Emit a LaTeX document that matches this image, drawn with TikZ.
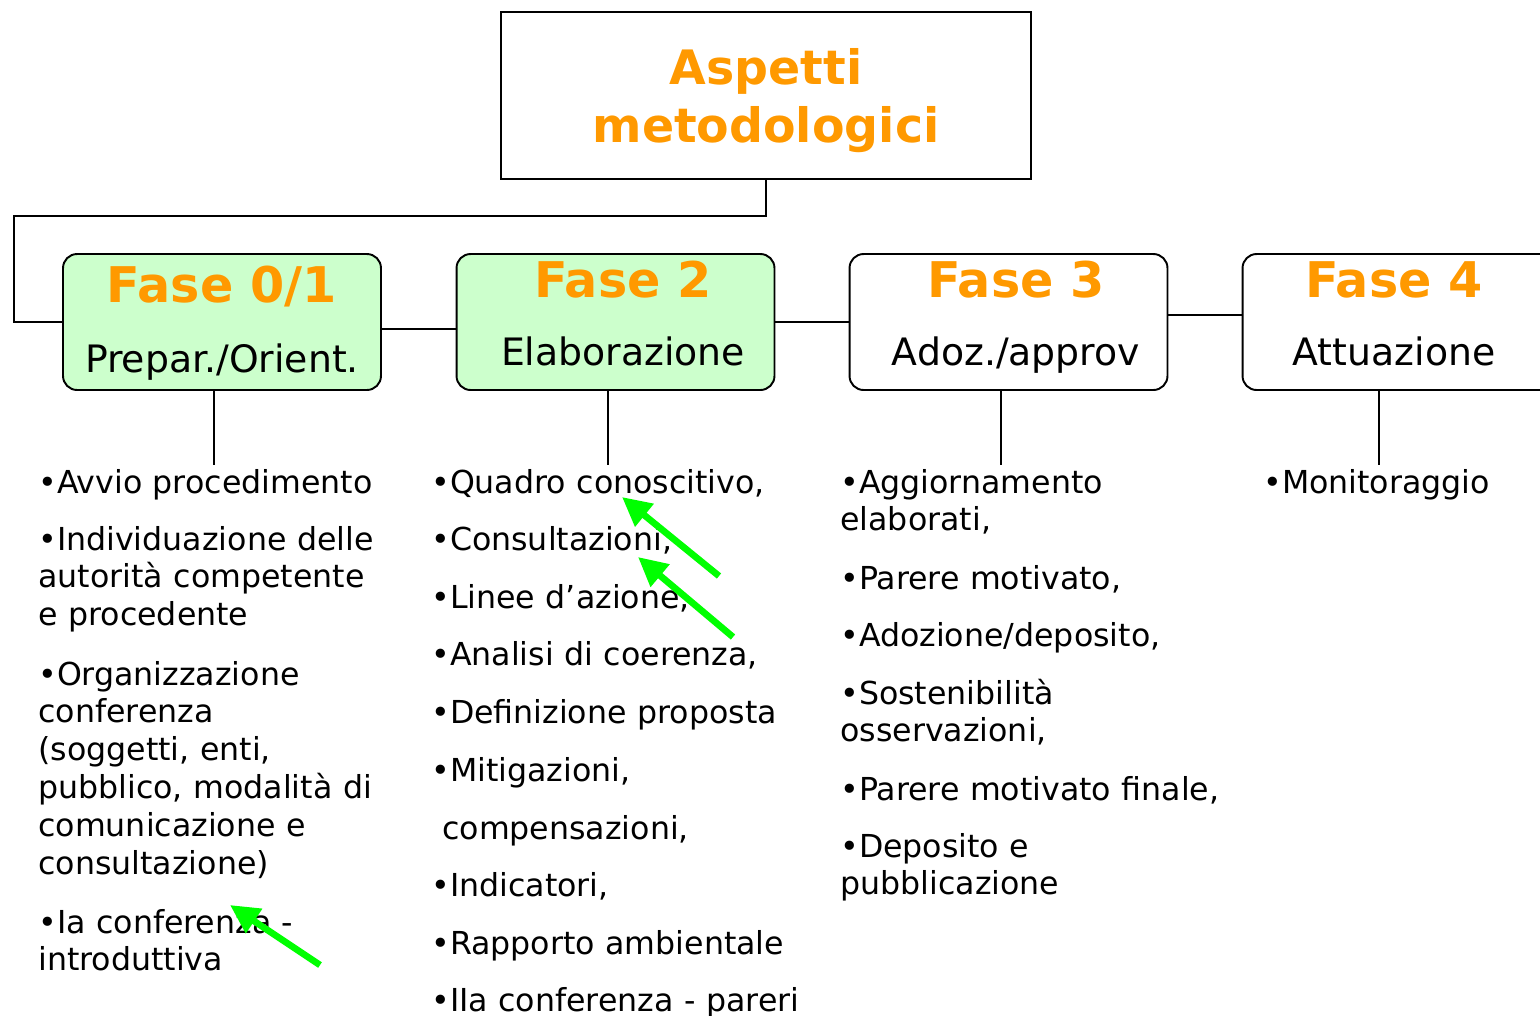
\documentclass[tikz,border=0pt]{standalone}
\usepackage{fontspec}
\setmainfont{DejaVu Sans}
\usepackage{tikz}
\usetikzlibrary{arrows.meta, positioning, calc}

\definecolor{arancio}{HTML}{FF9900}
\definecolor{verdino}{HTML}{CCFFCC}
\definecolor{verde}{HTML}{00FF00}

\begin{document}
\begin{tikzpicture}[
		x=0.02cm, y=-0.02cm,
		titlebox/.style={draw, line width=1.1pt, minimum width=10.6cm, minimum height=3.34cm},
		titletext/.style={align=center, font=\fontsize{27}{33}\selectfont\bfseries, text=arancio, inner sep=0},
		fasebox/.style={draw, rounded corners=8pt, line width=1.1pt, minimum width=6.36cm, minimum height=2.72cm},
		fasetitle/.style={font=\fontsize{28}{30}\selectfont\bfseries, text=arancio, anchor=base, inner sep=0},
		fasesub/.style={font=\fontsize{21.5}{24}\selectfont, anchor=base, inner sep=0},
		voce/.style={font=\fontsize{18}{21.6}\selectfont, text width=9cm, align=left, anchor=base west, inner sep=0},
		link/.style={line width=1pt},
		freccia/.style={-{Triangle[length=5.8mm, width=5.6mm]}, line width=3.8pt, verde}
		]
		
		\useasboundingbox (0,0) rectangle (1540,1015);
		\clip (0,0) rectangle (1540,1015);
		
		% Title
		\node[titlebox] (title) at (766,95.5) {};
		\node[titletext] (titlet) at (766,101) {Aspetti\\metodologici};
		
		% Phases
		\node[fasebox, fill=verdino] (b01) at (222,322) {};
		\node[fasebox, fill=verdino] (b2) at (615.5,322) {};
		\node[fasebox] (b3) at (1008.5,322) {};
		\node[fasebox] (b4) at (1401.5,322) {};
		
		\node[fasetitle] (b01t) at (222,302) {Fase 0/1};
		\node[fasesub] (b01s) at (222,372) {Prepar./Orient.};
		\node[fasetitle] (b2t) at (623,297) {Fase 2};
		\node[fasesub] (b2s) at (623,365) {Elaborazione};
		\node[fasetitle] (b3t) at (1016,297) {Fase 3};
		\node[fasesub] (b3s) at (1016,365) {Adoz./approv};
		\node[fasetitle] (b4t) at (1394,297) {Fase 4};
		\node[fasesub] (b4s) at (1394,365) {Attuazione};
		
		% Links
		\draw[link] (title.south) -- ++(0,36) -| ($(b01.west)+(-48,0)$) -- (b01.west);
		\draw[link] ($(b01.east)+(0,7)$) -- ($(b2.west)+(0,7)$);
		\draw[link] (b2.east) -- (b3.west);
		\draw[link] ($(b3.east)+(0,-7)$) -- ($(b4.west)+(0,-7)$);
		
		% Lists
		\coordinate (l01) at (214,465);
		\coordinate (l2) at (608,465);
		\coordinate (l3) at (1001,465);
		\coordinate (l4) at (1379,465);
		\draw[link] (b01.south -| l01) -- (l01);
		\draw[link] (b2.south -| l2) -- (l2);
		\draw[link] (b3.south -| l3) -- (l3);
		\draw[link] (b4.south -| l4) -- (l4);
		
		\node[voce] (a1) at (38,493) {•Avvio procedimento};
		\node[voce] (a2) at (38,550) {•Individuazione delle\\autorità competente\\e procedente};
		\node[voce] (a3) at (38,685) {•Organizzazione\\conferenza\\(soggetti, enti,\\pubblico, modalità di\\comunicazione e\\consultazione)};
		\node[voce] (a4) at (38,933) {•Ia conferenza -\\introduttiva};
		
		\node[voce] (e1) at (431,493) {•Quadro conoscitivo,};
		\node[voce] (e2) at (431,550) {•Consultazioni,};
		\node[voce] (e3) at (431,608) {•Linee d’azione,};
		\node[voce] (e4) at (431,665) {•Analisi di coerenza,};
		\node[voce] (e5) at (431,723) {•Definizione proposta};
		\node[voce] (e6) at (431,781) {•Mitigazioni,};
		\node[voce] (e7) at (442,839) {compensazioni,};
		\node[voce] (e8) at (431,896) {•Indicatori,};
		\node[voce] (e9) at (431,954) {•Rapporto ambientale};
		\node[voce] (e10) at (431,1011) {•IIa conferenza - pareri};
		
		\node[voce] (d1) at (840,493) {•Aggiornamento\\elaborati,};
		\node[voce] (d2) at (840,589) {•Parere motivato,};
		\node[voce] (d3) at (840,646) {•Adozione/deposito,};
		\node[voce] (d4) at (840,704) {•Sostenibilità\\osservazioni,};
		\node[voce] (d5) at (840,800) {•Parere motivato finale,};
		\node[voce] (d6) at (840,857) {•Deposito e\\pubblicazione};
		
		\node[voce] (m1) at (1263,493) {•Monitoraggio};
		
		% Highlights
		\coordinate (h1) at (719,576);
		\coordinate (h2) at (733,637);
		\coordinate (h3) at (320,965);
		\draw[freccia] (h1) -- (622,497);
		\draw[freccia] (h2) -- (638,557);
		\draw[freccia] (h3) -- (230,905);
		
	\end{tikzpicture}
\end{document}
